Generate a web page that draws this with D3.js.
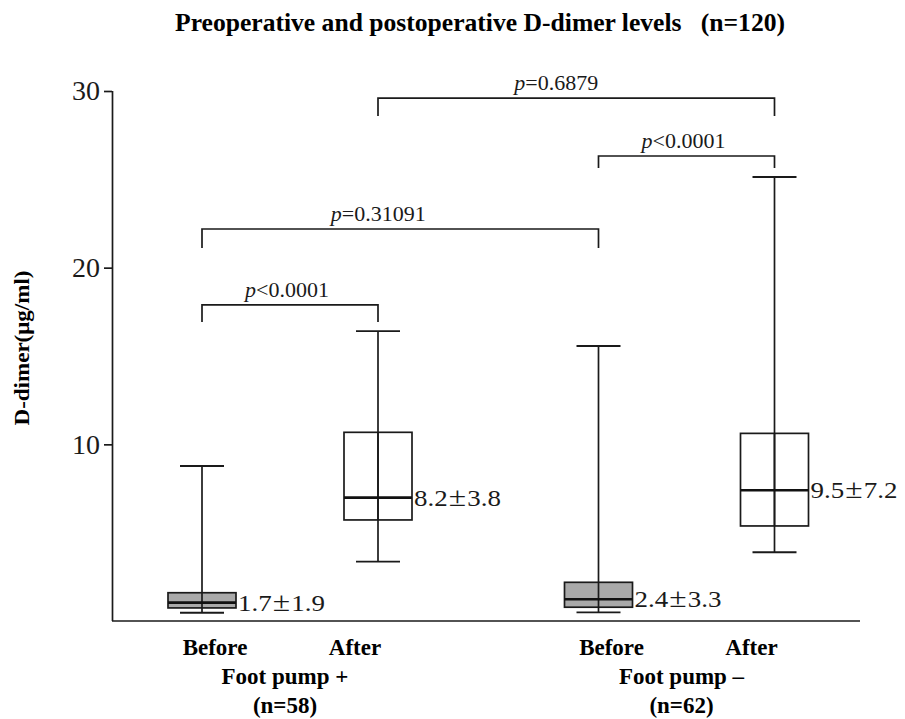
<!DOCTYPE html>
<html>
<head>
<meta charset="utf-8">
<script src="https://cdn.jsdelivr.net/npm/d3@7"></script>
<style>
  html, body { margin: 0; padding: 0; background: #fff; }
  svg { display: block; }
</style>
</head>
<body>
<svg id="chart" width="905" height="719"></svg>
<script>
// ---------------- DATA ----------------
const groups = ["Foot pump +", "Foot pump –"];
const groupN = ["(n=58)", "(n=62)"];
const phases = ["Before", "After"];
// box statistics per group/phase (µg/ml)
const boxGroup  = ["Foot pump +", "Foot pump +", "Foot pump –", "Foot pump –"];
const boxPhase  = ["Before", "After", "Before", "After"];
const whiskerLo = [0.47, 3.36, 0.49, 3.89];
const q1        = [0.74, 5.72, 0.78, 5.38];
const median    = [1.04, 6.98, 1.23, 7.40];
const q3        = [1.60, 10.68, 2.19, 10.62];
const whiskerHi = [8.77, 16.41, 15.57, 25.13];
const meanSd    = [["1.7", "1.9"], ["8.2", "3.8"], ["2.4", "3.3"], ["9.5", "7.2"]];
// significance brackets
const pLabel     = ["=0.6879", "<0.0001", "=0.31091", "<0.0001"];
const pFrom      = [1, 2, 0, 0];   // index of box
const pTo        = [3, 3, 2, 1];
const pLevel     = [29.6, 26.32, 22.19, 17.89];
const pDropLevel = [28.58, 25.64, 21.11, 16.92];
const yTicks = [10, 20, 30];

// ---------------- LAYOUT ----------------
const svg = d3.select("#chart");
const serif = "Liberation Serif";
const y = d3.scaleLinear().domain([0, 30]).range([621, 91]);
const xGroup = d3.scaleBand().domain(groups).range([91.75, 884.75]);
const xInner = d3.scalePoint().domain(phases).range([-88, 88]);
const xLabelInner = d3.scalePoint().domain(phases).range([-75, 65]);
const cx = i => xGroup(boxGroup[i]) + xGroup.bandwidth() / 2 + xInner(boxPhase[i]);
const gc = g => xGroup(g) + xGroup.bandwidth() / 2;
const boxW = 68, capW = 44;
const ink = "#1a1a1a";
const pTextShift = [-20, -3, -22, -3];   // label nudges (px) as in the original figure

// Title
svg.append("text")
  .attr("x", 480).attr("y", 31)
  .attr("text-anchor", "middle")
  .style("font-family", serif).attr("font-weight", "bold").attr("font-size", 26)
  .attr("xml:space", "preserve")
  .attr("textLength", 610).attr("lengthAdjust", "spacingAndGlyphs")
  .text("Preoperative and postoperative D-dimer levels   (n=120)");

// Y axis
const yAxis = svg.append("g")
  .attr("transform", "translate(112,0)")
  .call(d3.axisLeft(y).tickValues(yTicks).tickSize(8).tickSizeOuter(0).tickPadding(4));
yAxis.select(".domain").attr("stroke", ink).attr("stroke-width", 1.7)
  .attr("d", `M0.5,${y(30)}V${y(0)}`);
yAxis.selectAll(".tick line").attr("stroke", ink).attr("stroke-width", 1.7);
yAxis.selectAll(".tick text").style("font-family", serif).attr("font-size", 28).attr("fill", ink);

// X axis baseline
svg.append("line")
  .attr("x1", 112).attr("x2", 860)
  .attr("y1", y(0)).attr("y2", y(0))
  .attr("stroke", ink).attr("stroke-width", 1.7);

// Y label
svg.append("text")
  .attr("transform", `translate(29,348) rotate(-90)`)
  .attr("text-anchor", "middle")
  .style("font-family", serif).attr("font-weight", "bold").attr("font-size", 21)
  .attr("textLength", 155).attr("lengthAdjust", "spacingAndGlyphs")
  .text("D-dimer(μg/ml)");

// Boxes
const idx = d3.range(boxGroup.length);
const boxes = svg.append("g").selectAll("g").data(idx).join("g");
boxes.append("line")
  .attr("x1", i => cx(i)).attr("x2", i => cx(i))
  .attr("y1", i => y(whiskerLo[i])).attr("y2", i => y(whiskerHi[i]))
  .attr("stroke", ink).attr("stroke-width", 1.7);
boxes.append("rect")
  .attr("x", i => cx(i) - boxW / 2).attr("width", boxW)
  .attr("y", i => y(q3[i])).attr("height", i => y(q1[i]) - y(q3[i]))
  .attr("fill", i => boxPhase[i] === "Before" ? "#a9a9a9" : "none")
  .attr("stroke", ink).attr("stroke-width", 1.7);
boxes.append("line")
  .attr("x1", i => cx(i)).attr("x2", i => cx(i))
  .attr("y1", i => y(q1[i])).attr("y2", i => y(q3[i]))
  .attr("stroke", ink).attr("stroke-width", 1.7);
boxes.append("line")
  .attr("x1", i => cx(i) - boxW / 2).attr("x2", i => cx(i) + boxW / 2)
  .attr("y1", i => y(median[i])).attr("y2", i => y(median[i]))
  .attr("stroke", "#111").attr("stroke-width", 2.7);
[whiskerLo, whiskerHi].forEach(arr => {
  boxes.append("line")
    .attr("x1", i => cx(i) - capW / 2).attr("x2", i => cx(i) + capW / 2)
    .attr("y1", i => y(arr[i])).attr("y2", i => y(arr[i]))
    .attr("stroke", ink).attr("stroke-width", 1.9);
});
// mean ± sd labels
const ms = boxes.append("text")
  .attr("x", i => cx(i) + boxW / 2 + 2)
  .attr("y", i => y(median[i]) + 8)
  .style("font-family", serif).attr("font-size", 23).attr("fill", ink)
  .attr("textLength", 87).attr("lengthAdjust", "spacingAndGlyphs");
ms.append("tspan").text(i => meanSd[i][0]);
ms.append("tspan").attr("dx", 1).attr("font-size", 27).text("±");
ms.append("tspan").attr("dx", 1).text(i => meanSd[i][1]);

// Brackets
const br = svg.append("g").selectAll("g").data(d3.range(pLabel.length)).join("g");
br.append("path")
  .attr("d", k => `M${cx(pFrom[k])},${y(pDropLevel[k])}V${y(pLevel[k])}H${cx(pTo[k])}V${y(pDropLevel[k])}`)
  .attr("fill", "none").attr("stroke", ink).attr("stroke-width", 1.7);
const pt = br.append("text")
  .attr("x", k => (cx(pFrom[k]) + cx(pTo[k])) / 2 + pTextShift[k])
  .attr("y", k => y(pLevel[k]) - 8)
  .attr("text-anchor", "middle")
  .style("font-family", serif).attr("font-size", 22).attr("fill", ink);
pt.append("tspan").attr("font-style", "italic").text("p");
pt.append("tspan").text(k => pLabel[k]);

// Category labels
const gl = svg.append("g").selectAll("g").data(groups).join("g");
phases.forEach(ph => {
  gl.append("text")
    .attr("x", g => gc(g) + xLabelInner(ph)).attr("y", 655)
    .attr("text-anchor", "middle")
    .style("font-family", serif).attr("font-weight", "bold").attr("font-size", 23)
    .text(ph);
});
gl.append("text")
  .attr("x", g => gc(g) - 5).attr("y", 684)
  .attr("text-anchor", "middle")
  .style("font-family", serif).attr("font-weight", "bold").attr("font-size", 23)
  .text(g => g);
gl.append("text")
  .attr("x", g => gc(g) - 5).attr("y", 713)
  .attr("text-anchor", "middle")
  .style("font-family", serif).attr("font-weight", "bold").attr("font-size", 23)
  .text((g, i) => groupN[i]);
</script>
</body>
</html>
